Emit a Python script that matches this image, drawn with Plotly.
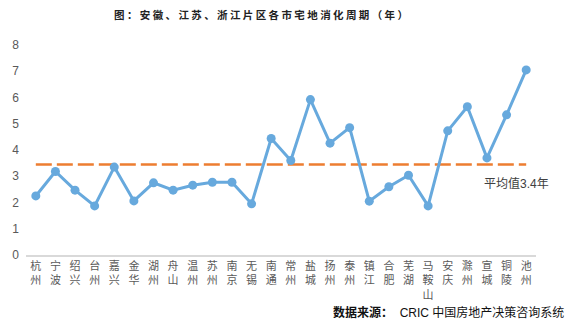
import plotly.graph_objects as go

cities = ["杭州", "宁波", "绍兴", "台州", "嘉兴", "金华", "湖州", "舟山", "温州", "苏州",
          "南京", "无锡", "南通", "常州", "盐城", "扬州", "泰州", "镇江", "合肥", "芜湖",
          "马鞍山", "安庆", "滁州", "宣城", "铜陵", "池州"]
cycle_years = [2.25, 3.18, 2.47, 1.87, 3.35, 2.06, 2.75, 2.47, 2.66, 2.77,
               2.77, 1.95, 4.44, 3.6, 5.92, 4.26, 4.85, 2.05, 2.6, 3.04,
               1.87, 4.73, 5.65, 3.7, 5.34, 7.05]
avg_value = 3.45
avg_label = "平均值3.4年"
title_text = "图：安徽、江苏、浙江片区各市宅地消化周期（年）"
y_ticks = [0, 1, 2, 3, 4, 5, 6, 7, 8]
tick_text = ["<br>".join(list(c)) for c in cities]

FONT = "Liberation Sans, Arial, Noto Sans CJK SC"

fig = go.Figure()
fig.add_trace(go.Scatter(
    x=cities, y=[avg_value] * len(cities), mode="lines",
    line=dict(color="#ED7D31", width=2.5, dash="16px,5px"),
    hoverinfo="skip", showlegend=False))
fig.add_trace(go.Scatter(
    x=cities, y=cycle_years, mode="lines+markers",
    line=dict(color="#67A9DD", width=3),
    marker=dict(color="#67A9DD", size=9),
    showlegend=False))

fig.add_annotation(x=cities[-2], y=avg_value, text=avg_label, showarrow=False,
                   xanchor="center", yanchor="top", yshift=-10, xshift=10,
                   font=dict(family=FONT, size=12, color="#404040"))
spaced_title = " ".join(list(title_text))
fig.add_annotation(xref="paper", yref="paper", x=0.5, y=1, yshift=31, xshift=-20,
                   text="<b>" + spaced_title + "</b>",
                   showarrow=False, xanchor="center", yanchor="middle",
                   font=dict(family="Noto Sans CJK SC", size=10.5, color="#222222"))
fig.add_annotation(xref="paper", yref="paper", x=1.0, y=0, xshift=30, yshift=-57,
                   text="<b>数据来源：</b>  CRIC 中国房地产决策咨询系统",
                   showarrow=False, xanchor="right", yanchor="middle",
                   font=dict(family=FONT, size=12, color="#111111"))

fig.update_layout(
    width=575, height=330,
    margin=dict(l=24, r=39, t=45, b=75),
    paper_bgcolor="white", plot_bgcolor="white",
    font=dict(family=FONT, size=12, color="#595959"),
    xaxis=dict(type="category", categoryorder="array", categoryarray=cities,
               tickmode="array", tickvals=cities, ticktext=tick_text,
               range=[-0.5, len(cities) - 0.5],
               showline=True, linecolor="#D9D9D9", linewidth=1.5,
               showgrid=False, ticks="", tickangle=0,
               tickfont=dict(family="Noto Sans CJK SC", size=11, color="#595959")),
    yaxis=dict(range=[0, 8], tickmode="array", tickvals=y_ticks,
               showgrid=False, zeroline=False, showline=False, ticks="",
               ticklabelstandoff=6,
               tickfont=dict(family=FONT, size=12, color="#595959")),
)
fig.write_html("out.html")
